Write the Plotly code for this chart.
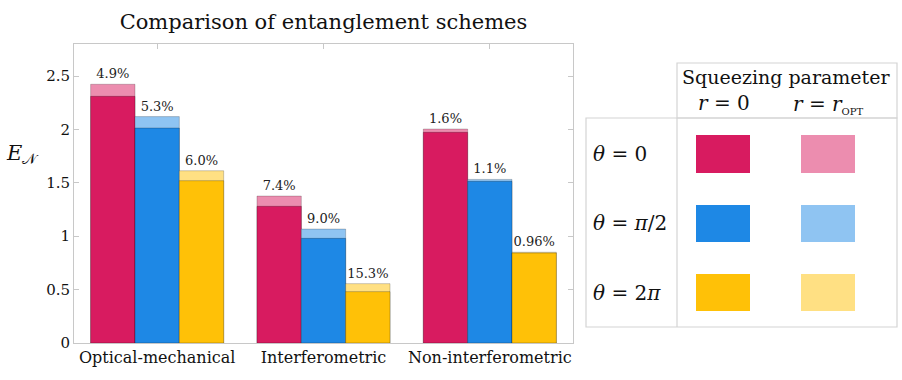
import plotly.graph_objects as go

categories = ["Optical-mechanical", "Interferometric", "Non-interferometric"]
theta_labels = ["θ = 0", "θ = π/2", "θ = 2π"]

# E_N at r = 0 (base) and at r = r_OPT (optimal squeezing)
base_theta0 = [2.31, 1.28, 1.973]
base_theta_half_pi = [2.013, 0.98, 1.514]
base_theta_2pi = [1.52, 0.481, 0.843]

opt_theta0 = [2.423, 1.376, 2.004]
opt_theta_half_pi = [2.12, 1.067, 1.532]
opt_theta_2pi = [1.613, 0.556, 0.850]

pct_theta0 = ["4.9%", "7.4%", "1.6%"]
pct_theta_half_pi = ["5.3%", "9.0%", "1.1%"]
pct_theta_2pi = ["6.0%", "15.3%", "0.96%"]

y_ticks = [0, 0.5, 1, 1.5, 2, 2.5]
y_tick_labels = ["0", "0.5", "1", "1.5", "2", "2.5"]

base_colors = ["#D81B60", "#1E88E5", "#FFC107"]
opt_colors = ["#EC8DAF", "#8FC4F2", "#FFE083"]

FONT = "DejaVu Serif"

bases = [base_theta0, base_theta_half_pi, base_theta_2pi]
opts = [opt_theta0, opt_theta_half_pi, opt_theta_2pi]
pcts = [pct_theta0, pct_theta_half_pi, pct_theta_2pi]

fig = go.Figure()
for i in range(3):
    fig.add_trace(go.Bar(
        x=categories, y=opts[i], offsetgroup=str(i),
        marker=dict(color=opt_colors[i], line=dict(color="rgba(0,0,0,0.25)", width=0.8)),
        text=pcts[i], textposition="outside", cliponaxis=False, constraintext="none",
        textfont=dict(family=FONT, size=13, color="#222"),
        showlegend=False, hoverinfo="skip",
    ))
    fig.add_trace(go.Bar(
        x=categories, y=bases[i], offsetgroup=str(i),
        marker=dict(color=base_colors[i], line=dict(color="rgba(0,0,0,0.3)", width=0.8)),
        showlegend=False, hoverinfo="skip",
    ))

L, R, T, B = 74, 573, 44, 343
W, H = 902, 380


def px(x):
    return (x - L) / (R - L)


def py(y):
    return (B - y) / (B - T)


axis_col = "#c8c8c8"
fig.update_layout(
    width=W, height=H,
    margin=dict(l=L, r=W - R, t=T, b=H - B, pad=0, autoexpand=False),
    barmode="group", bargap=0.2, bargroupgap=0,
    plot_bgcolor="white", paper_bgcolor="white",
    font=dict(family=FONT, color="#111"),
    title=dict(text="Comparison of entanglement schemes", x=px((L + R) / 2), xref="paper",
               xanchor="center", y=1 - 22 / H, yanchor="middle",
               font=dict(family=FONT, size=21, color="#111")),
    xaxis=dict(range=[-0.5, 2.5], showline=True, linecolor=axis_col, linewidth=1, mirror="ticks",
               ticks="inside", ticklen=5, tickcolor=axis_col, showgrid=False, layer="below traces",
               tickfont=dict(family=FONT, size=16, color="#111"), zeroline=False, automargin=False),
    yaxis=dict(range=[0, 2.8], showline=True, linecolor=axis_col, linewidth=1, mirror="ticks",
               ticks="inside", ticklen=5, tickcolor=axis_col, showgrid=False, layer="below traces",
               tickvals=y_ticks, ticktext=y_tick_labels, zeroline=False, automargin=False,
               tickfont=dict(family=FONT, size=15, color="#111")),
)

# y-axis label
fig.add_annotation(text="<i>E</i><sub>𝒩</sub>", xref="paper", yref="paper",
                   x=px(22), y=py(154), showarrow=False, xanchor="center", yanchor="middle",
                   font=dict(family=FONT, size=21, color="#111"))

# legend table
line_col = "#d4d4d4"
shapes = [
    dict(type="rect", x0=px(677), x1=px(897), y0=py(118), y1=py(63)),
    dict(type="rect", x0=px(586), x1=px(897), y0=py(327), y1=py(118)),
    dict(type="line", x0=px(677), x1=px(677), y0=py(327), y1=py(118)),
]
for s in shapes:
    s.update(xref="paper", yref="paper", line=dict(color=line_col, width=1.2), layer="above")
    fig.add_shape(**s)

row_y = [(135, 173), (205, 242), (274, 311)]
col_x = [(696, 750), (801, 855)]
for r, (y0, y1) in enumerate(row_y):
    for c, (x0, x1) in enumerate(col_x):
        col = base_colors[r] if c == 0 else opt_colors[r]
        fig.add_shape(type="rect", xref="paper", yref="paper", x0=px(x0), x1=px(x1),
                      y0=py(y1), y1=py(y0), fillcolor=col, line=dict(width=0), layer="above")
    fig.add_annotation(text="<i>" + theta_labels[r][0] + "</i>" + theta_labels[r][1:].replace("π", "<i>π</i>"),
                       xref="paper", yref="paper", x=px(591), y=py((y0 + y1) / 2),
                       showarrow=False, xanchor="left", yanchor="middle",
                       font=dict(family=FONT, size=20, color="#111"))

fig.add_annotation(text="Squeezing parameter", xref="paper", yref="paper", x=px(786), y=py(77),
                   showarrow=False, xanchor="center", yanchor="middle",
                   font=dict(family=FONT, size=19, color="#111"))
fig.add_annotation(text="<i>r</i> = 0", xref="paper", yref="paper", x=px(724), y=py(103),
                   showarrow=False, xanchor="center", yanchor="middle",
                   font=dict(family=FONT, size=20, color="#111"))
fig.add_annotation(text="<i>r</i> = <i>r</i><sub><span style='font-size:10px'>OPT</span></sub>",
                   xref="paper", yref="paper", x=px(828), y=py(104),
                   showarrow=False, xanchor="center", yanchor="middle",
                   font=dict(family=FONT, size=20, color="#111"))

fig.write_html("out.html", config={"displayModeBar": False},
               post_script="document.body.style.margin='0';")
